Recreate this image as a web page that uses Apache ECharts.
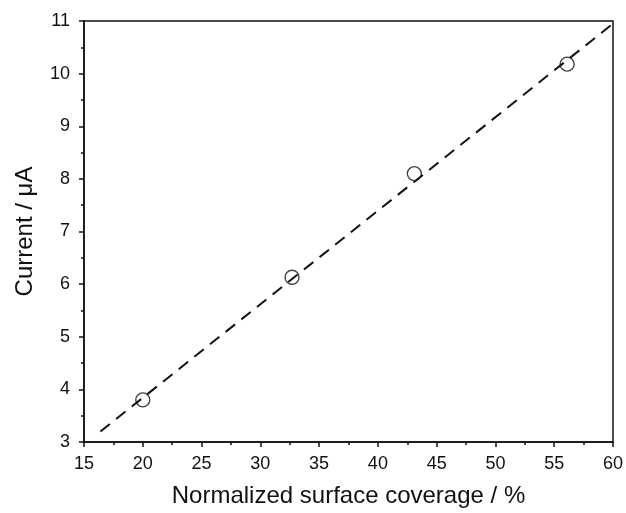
<!DOCTYPE html>
<html>
<head>
<meta charset="utf-8">
<script src="https://cdn.jsdelivr.net/npm/echarts@6/dist/echarts.min.js"></script>
<style>
  html, body { margin: 0; padding: 0; background: #fff; }
  #main { width: 626px; height: 513px; }
</style>
</head>
<body>
<div id="main"></div>
<script>
// 测量点 (覆盖率 %, 电流 μA)
const coverage = [20.0, 32.7, 43.1, 56.1];
const current = [3.80, 6.13, 8.10, 10.18];

// 拟合直线两端
const fitX = [16.4, 60.0];
const fitY = [3.2, 10.95];

const xTicks = [15, 20, 25, 30, 35, 40, 45, 50, 55, 60];
const yTicks = [3, 4, 5, 6, 7, 8, 9, 10, 11];

let chart = echarts.init(document.getElementById('main'));

const font = 'Liberation Sans, Arial, sans-serif';

chart.setOption({
  backgroundColor: '#ffffff',
  animation: false,
  grid: {
    left: 84,
    right: 13,
    top: 21,
    bottom: 70,
    show: true,
    borderColor: '#111',
    borderWidth: 1.5
  },
  xAxis: {
    type: 'value',
    min: xTicks[0],
    max: xTicks[xTicks.length - 1],
    interval: 5,
    name: 'Normalized surface coverage / %',
    nameLocation: 'middle',
    nameGap: 42,
    nameTextStyle: { fontFamily: font, fontSize: 24, color: '#111' },
    axisLine: { lineStyle: { color: '#111', width: 1.5 } },
    axisTick: { length: 5, lineStyle: { color: '#111', width: 1.5 } },
    minorTick: { show: true, splitNumber: 2, length: 3, lineStyle: { color: '#111', width: 1.5 } },
    splitLine: { show: false },
    axisLabel: { fontFamily: font, fontSize: 18, color: '#111', margin: 13 }
  },
  yAxis: {
    type: 'value',
    min: yTicks[0],
    max: yTicks[yTicks.length - 1],
    interval: 1,
    name: 'Current / μA',
    nameLocation: 'middle',
    nameGap: 47,
    nameTextStyle: { fontFamily: font, fontSize: 24, color: '#111' },
    axisLine: { lineStyle: { color: '#111', width: 1.5 } },
    axisTick: { length: 5, lineStyle: { color: '#111', width: 1.5 } },
    minorTick: { show: true, splitNumber: 2, length: 3, lineStyle: { color: '#111', width: 1.5 } },
    splitLine: { show: false },
    axisLabel: { fontFamily: font, fontSize: 18, color: '#111', margin: 14 }
  },
  series: [
    {
      type: 'line',
      data: fitX.map((x, i) => [x, fitY[i]]),
      showSymbol: false,
      lineStyle: { color: '#111', width: 2, type: [12, 8] },
      z: 2
    },
    {
      type: 'scatter',
      data: coverage.map((x, i) => [x, current[i]]),
      symbol: 'circle',
      symbolSize: 14,
      itemStyle: { color: 'rgba(255,255,255,0)', borderColor: '#111', borderWidth: 1.4 },
      z: 3
    }
  ]
});
</script>
</body>
</html>
